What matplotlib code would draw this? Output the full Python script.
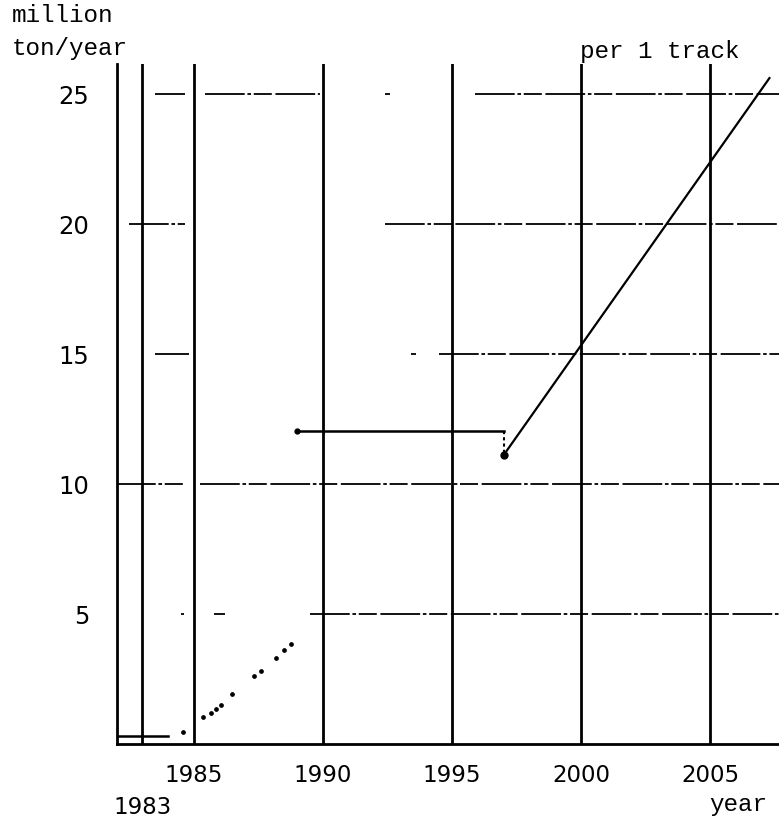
import matplotlib
matplotlib.use("Agg")
import matplotlib.pyplot as plt

# transport capacity per 1 track (million ton/year)
step_years = [1982.0, 1984.0]
step_values = [0.3, 0.3]

dot_years = [1984.57, 1985.35, 1985.66, 1985.86, 1986.05, 1986.47,
             1987.33, 1987.6, 1988.18, 1988.49, 1988.76]
dot_values = [0.46, 1.04, 1.19, 1.35, 1.5, 1.92, 2.62, 2.81, 3.31, 3.62, 3.85]

flat_years = [1989.0, 1997.0]
flat_values = [12.05, 12.05]

drop_years = [1997.0, 1997.0]
drop_values = [12.05, 11.1]

rise_years = [1997.0, 2007.3]
rise_values = [11.1, 25.6]

vert_years = [1983, 1985, 1990, 1995, 2000, 2005]
x_ticks = [1985, 1990, 1995, 2000, 2005]
y_ticks = [5, 10, 15, 20, 25]

# broken grid lines of the scanned drawing: level -> pieces (from, to)
grid_pieces = {
    25: [(1983.5, 1984.65), (1985.45, 1989.9), (1992.4, 1992.6), (1995.9, 2007.7)],
    20: [(1982.5, 1984.65), (1992.4, 2007.7)],
    15: [(1983.5, 1984.8), (1993.4, 1993.6), (1994.5, 2007.7)],
    10: [(1982.0, 1984.65), (1985.25, 2007.7)],
    5: [(1984.5, 1984.62), (1985.8, 1986.2), (1989.5, 2007.7)],
}

num_font = "DejaVu Sans"
mono_font = "Liberation Mono"

fig = plt.figure(figsize=(7.79, 8.2), dpi=100)
ax = fig.add_axes([0.150, 0.0915, 0.85, 0.8295])
ax.set_xlim(1982.02, 2007.67)
ax.set_ylim(0, 26.15)

# grid
for level, pieces in grid_pieces.items():
    for a, b in pieces:
        ax.plot([a, b], [level, level], color="black", lw=1.3,
                ls=(0, (22, 1.5, 2, 1.5, 10, 2)), solid_capstyle="butt")

# vertical year lines
for yr in vert_years:
    ax.axvline(yr, color="black", lw=2.0)

# data
ax.plot(step_years, step_values, color="black", lw=1.8)
ax.plot(dot_years, dot_values, ls="none", marker="o", ms=2.4, color="black")
ax.plot(flat_years, flat_values, color="black", lw=1.8)
ax.plot(drop_years, drop_values, color="black", lw=1.5, ls=(0, (1.5, 1.5)))
ax.plot(rise_years, rise_values, color="black", lw=1.6)
ax.plot([flat_years[0]], [flat_values[0]], marker="o", ms=3.5, color="black")
ax.plot([rise_years[0]], [rise_values[0]], marker="o", ms=5, color="black")

for s in ["top", "right"]:
    ax.spines[s].set_visible(False)
ax.spines["left"].set_linewidth(2.0)
ax.spines["bottom"].set_linewidth(2.0)

ax.set_xticks(x_ticks)
ax.set_yticks(y_ticks)
ax.tick_params(axis="x", length=0, pad=14, labelsize=16.5)
ax.tick_params(axis="y", length=0, pad=20, labelsize=17.5)
for lab in ax.get_xticklabels() + ax.get_yticklabels():
    lab.set_fontfamily(num_font)

ax.text(1983, -2.4, "1983", ha="center", va="center", fontsize=16.5,
        family=num_font, clip_on=False)
ax.text(2006.1, -2.3, "year", ha="center", va="center", fontsize=17.5,
        family=mono_font, clip_on=False)
fig.text(12 / 779, 1 - 15 / 820, "million", ha="left", va="center",
         fontsize=17.5, family=mono_font)
fig.text(12 / 779, 1 - 48 / 820, "ton/year", ha="left", va="center",
         fontsize=17.5, family=mono_font)
ax.text(1999.95, 26.65, "per 1 track", ha="left", va="center", fontsize=17.5,
        family=mono_font, clip_on=False)

fig.savefig("out.png", dpi=100)
